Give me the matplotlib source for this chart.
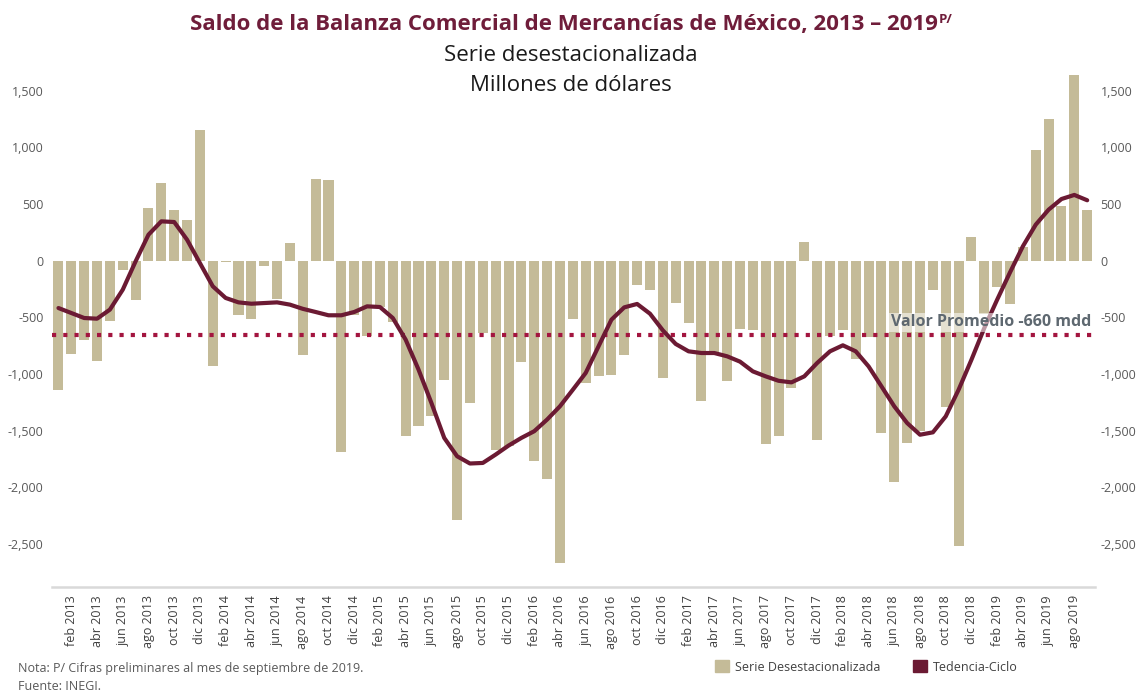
import numpy as np
import matplotlib.pyplot as plt
from matplotlib.patches import Patch
from matplotlib.ticker import FuncFormatter

plt.rcParams['font.family'] = ['Open Sans', 'DejaVu Sans']

# monthly data, jan 2013 .. sep 2019
meses = ['ene', 'feb', 'mar', 'abr', 'may', 'jun', 'jul', 'ago', 'sep', 'oct', 'nov', 'dic']
periodos = [f'{m} {a}' for a in range(2013, 2020) for m in meses][:81]

serie = [
    -1144, -821, -697, -888, -531, -86, -350, 467, 685, 450, 362, 1155,   # 2013
    -932, -12, -481, -515, -44, -334, 154, -836, 723, 714, -1690, -480,   # 2014
    -668, -410, -540, -1545, -1456, -1368, -1056, -2292, -1256, -638, -1674, -1633,  # 2015
    -897, -1771, -1927, -2668, -515, -1080, -1021, -1012, -830, -218, -256, -1038,  # 2016
    -374, -550, -1240, -815, -1065, -603, -612, -1621, -1545, -1125, 164, -1586,  # 2017
    -668, -615, -866, -674, -1525, -1956, -1610, -1500, -259, -1290, -2520, 213,  # 2018
    -474, -232, -382, 118, 980, 1250, 480, 1636, 450,  # 2019
]

tendencia = [
    -418, -462, -506, -512, -432, -256, -6, 229, 347, 341, 185, -21,
    -226, -329, -368, -380, -374, -368, -388, -425, -453, -482, -482, -453,
    -403, -409, -506, -697, -961, -1255, -1564, -1726, -1790, -1785, -1711, -1632,
    -1564, -1505, -1402, -1285, -1139, -991, -756, -521, -412, -382, -468, -615,
    -735, -800, -815, -815, -844, -891, -977, -1021, -1060, -1074, -1021, -903,
    -800, -747, -800, -933, -1109, -1286, -1433, -1536, -1515, -1374, -1139, -874,
    -594, -344, -103, 127, 318, 450, 544, 580, 533,
]

promedio = -660

x = np.arange(len(serie))

fig = plt.figure(figsize=(11.41, 6.92), dpi=100)
ax = fig.add_axes([0.0456, 0.1517, 0.914, 0.75])

ax.bar(x, serie, width=0.78, color='#C4BB98', zorder=2)
ax.plot(x, tendencia, color='#6B1A33', lw=3.0, zorder=4, solid_capstyle='round')
ax.axhline(promedio, color='#A3153F', lw=3.0, linestyle=(0, (1, 1.7)), zorder=3)
ax.text(80.3, -545, 'Valor Promedio -660 mdd', ha='right', va='center',
        fontsize=11.5, fontweight='bold', color='#5E6870', zorder=5,
        bbox=dict(facecolor='white', edgecolor='none', alpha=0.55, pad=1))

ax.set_xlim(-0.5, 80.6)
ax.set_ylim(-2880, 1700)
yt = np.arange(-2500, 1501, 500)
fmt = FuncFormatter(lambda v, p: f'{v:,.0f}')
ax.set_yticks(yt)
ax.yaxis.set_major_formatter(fmt)
ax.set_xticks(x[1::2])
ax.set_xticklabels(periodos[1::2], rotation=90, fontsize=9, color='#404040')
ax.tick_params(axis='both', length=0)
ax.tick_params(axis='y', labelsize=9, labelcolor='#595959', pad=6)
ax.tick_params(axis='x', pad=6)
for s in ['top', 'left', 'right']:
    ax.spines[s].set_visible(False)
ax.spines['bottom'].set_color('#D9D9D9')
ax.spines['bottom'].set_linewidth(1.8)

ax2 = ax.twinx()
ax2.set_ylim(ax.get_ylim())
ax2.set_yticks(yt)
ax2.yaxis.set_major_formatter(fmt)
ax2.tick_params(axis='y', length=0, labelsize=9, labelcolor='#595959', pad=4)
for s in ax2.spines.values():
    s.set_visible(False)

# titles
titulo = fig.text(0.494, 0.965, 'Saldo de la Balanza Comercial de Mercancías de México, 2013 – 2019',
                  ha='center', va='center', fontsize=16, fontweight='bold', color='#6F1D3A')
fig.canvas.draw()
bb = titulo.get_window_extent()
fig.text(bb.x1 / fig.bbox.width + 0.001, bb.y1 / fig.bbox.height - 0.008, 'P/',
         ha='left', va='center', fontsize=9.5, fontweight='bold', color='#6F1D3A')
fig.text(0.5, 0.920, 'Serie desestacionalizada', ha='center', va='center', fontsize=16, color='#1A1A1A')
fig.text(0.5, 0.877, 'Millones de dólares', ha='center', va='center', fontsize=16, color='#1A1A1A')

fig.text(0.016, 0.034, 'Nota: P/ Cifras preliminares al mes de septiembre de 2019.',
         fontsize=9, color='#595959', va='center')
fig.text(0.016, 0.008, 'Fuente: INEGI.', fontsize=9, color='#595959', va='center')

handles = [Patch(color='#C4BB98'), Patch(color='#6B1A33')]
fig.legend(handles, ['Serie Desestacionalizada', 'Tedencia-Ciclo'], loc='center left',
           bbox_to_anchor=(0.617, 0.036), ncol=2, frameon=False, fontsize=9,
           handlelength=1.1, handleheight=1.1, columnspacing=2.6, handletextpad=0.5,
           labelcolor='#404040')

fig.savefig('out.png', dpi=100)
